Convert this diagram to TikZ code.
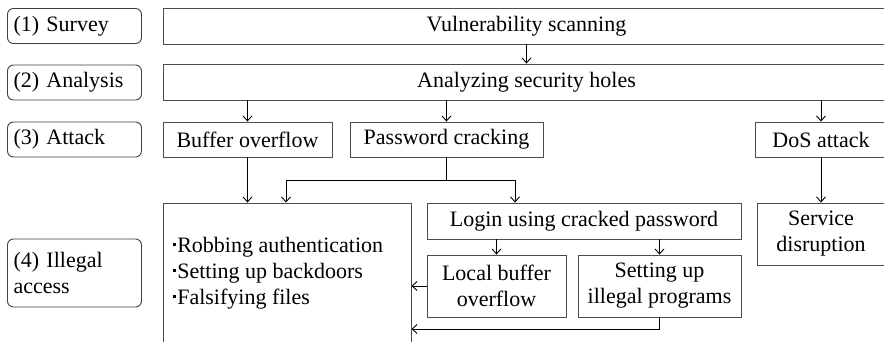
\documentclass[tikz,border=0pt]{standalone}
\usepackage{fontspec}
\setmainfont{Liberation Serif}
\usetikzlibrary{arrows.meta,positioning}
\newcommand{\sqbullet}{\rule[0.3em]{2.6pt}{2.6pt}\hspace{1.5pt}}

\begin{document}
\begin{tikzpicture}[x=1pt,y=-1pt,>={Straight Barb[length=5pt,width=9pt]},font=\fontsize{22}{26}\selectfont,
 stage/.style={draw=black!75,line width=0.9pt,rounded corners=6pt,align=left,text width=122pt,inner xsep=6pt,minimum height=35pt},
 box/.style={draw=black!70,line width=0.9pt,align=center,inner sep=2pt},
 link/.style={->,line width=0.9pt}]
\path[use as bounding box,clip] (0,0) rectangle (884,342);
% stage labels
\node[stage] (survey) at (74.5,26) {(1) Survey};
\node[stage] (analysis) at (74.5,82.5) {(2) Analysis};
\node[stage] (attack) at (74.5,139.5) {(3) Attack};
\node[stage,minimum height=68pt] (illegal) at (74.5,273) {(4) Illegal\\access};
% steps
\node[box,minimum width=727pt,minimum height=36pt] (scan) at (526.5,26) {Vulnerability scanning};
\node[box,minimum width=727pt,minimum height=36pt] (holes) at (526.5,82) {Analyzing security holes};
\node[box,minimum width=169pt,minimum height=35pt] (bof) at (247.5,139.5) {Buffer overflow};
\node[box,minimum width=193pt,minimum height=35pt] (pwd) at (446.5,139.5) {Password cracking};
\node[box,minimum width=132pt,minimum height=35pt] (dos) at (821,139.5) {DoS attack};
\node[box,minimum width=128pt,minimum height=62pt] (svc) at (821,234) {Service\\disruption};
\node[box,minimum width=248pt,minimum height=200pt] (result) at (287,303) {};
\node[anchor=west,align=left,inner sep=0pt] (items) at (173,273) {\sqbullet Robbing authentication\\\sqbullet Setting up backdoors\\\sqbullet Falsifying files};
\node[box,minimum width=314pt,minimum height=36pt] (login) at (584,221) {Login using cracked password};
\node[box,minimum width=139pt,minimum height=62pt] (local) at (496.5,286) {Local buffer\\overflow};
\node[box,minimum width=163pt,minimum height=62pt] (setup) at (659.5,286) {Setting up\\illegal programs};
\coordinate (pwdL) at (286,180);
\coordinate (pwdR) at (515,180);
\coordinate (loop) at (0,329);
% connectors
\draw[link] (scan.south) -- (holes.north);
\draw[link] (bof.north |- holes.south) -- (bof.north);
\draw[link] (pwd.north |- holes.south) -- (pwd.north);
\draw[link] (dos.north |- holes.south) -- (dos.north);
\draw[link] (dos.south) -- (svc.north);
\draw[link] (bof.south) -- (bof.south |- result.north);
\draw[link] (pwd.south) |- (pwdL) -- (pwdL |- result.north);
\draw[link] (pwd.south) |- (pwdR) -- (pwdR |- login.north);
\draw[link] (local.north |- login.south) -- (local.north);
\draw[link] (setup.north |- login.south) -- (setup.north);
\draw[link] (local.west) -- (local.west -| result.east);
\draw[link] (setup.south) |- (result.east |- loop);
\end{tikzpicture}
\end{document}
